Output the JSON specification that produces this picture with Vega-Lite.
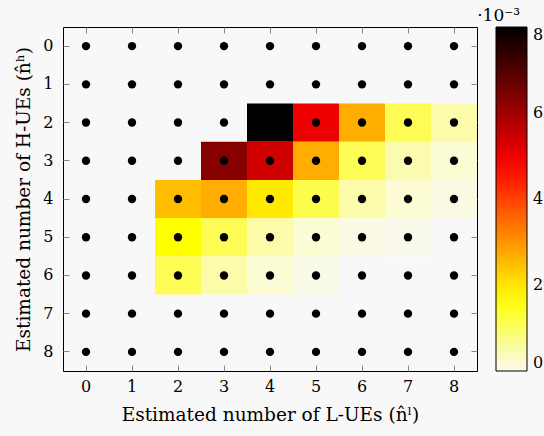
{
  "$schema": "https://vega.github.io/schema/vega-lite/v6.json",
  "width": 414,
  "height": 344,
  "autosize": {"type": "none"},
  "padding": {"left": 63, "top": 27, "right": 67, "bottom": 65},
  "background": "#f8f8f8",
  "title": {
    "text": "·10⁻³",
    "anchor": "end",
    "frame": "group",
    "dx": 43,
    "dy": 22,
    "offset": 11,
    "baseline": "alphabetic",
    "font": "DejaVu Serif",
    "fontSize": 17,
    "fontWeight": "normal",
    "color": "#000"
  },
  "config": {
    "view": {"stroke": "#000", "strokeWidth": 1},
    "axis": {
      "labelFont": "DejaVu Serif",
      "titleFont": "DejaVu Serif",
      "labelFontSize": 16,
      "titleFontSize": 18.5,
      "titleFontWeight": "normal",
      "labelColor": "#000",
      "titleColor": "#000",
      "domain": false,
      "grid": false,
      "tickColor": "#888",
      "tickSize": -6,
      "labelAngle": 0
    }
  },
  "resolve": {"axis": {"x": "independent", "y": "independent"}},
  "data": {
    "values": [
      {"l": 0, "h": 0, "p": null}, {"l": 1, "h": 0, "p": null}, {"l": 2, "h": 0, "p": null}, {"l": 3, "h": 0, "p": null}, {"l": 4, "h": 0, "p": null}, {"l": 5, "h": 0, "p": null}, {"l": 6, "h": 0, "p": null}, {"l": 7, "h": 0, "p": null}, {"l": 8, "h": 0, "p": null},
      {"l": 0, "h": 1, "p": null}, {"l": 1, "h": 1, "p": null}, {"l": 2, "h": 1, "p": null}, {"l": 3, "h": 1, "p": null}, {"l": 4, "h": 1, "p": null}, {"l": 5, "h": 1, "p": null}, {"l": 6, "h": 1, "p": null}, {"l": 7, "h": 1, "p": null}, {"l": 8, "h": 1, "p": null},
      {"l": 0, "h": 2, "p": null}, {"l": 1, "h": 2, "p": null}, {"l": 2, "h": 2, "p": null}, {"l": 3, "h": 2, "p": null}, {"l": 4, "h": 2, "p": 0.0080}, {"l": 5, "h": 2, "p": 0.0050}, {"l": 6, "h": 2, "p": 0.0027}, {"l": 7, "h": 2, "p": 0.0011}, {"l": 8, "h": 2, "p": 0.0005},
      {"l": 0, "h": 3, "p": null}, {"l": 1, "h": 3, "p": null}, {"l": 2, "h": 3, "p": null}, {"l": 3, "h": 3, "p": 0.0063}, {"l": 4, "h": 3, "p": 0.0054}, {"l": 5, "h": 3, "p": 0.0027}, {"l": 6, "h": 3, "p": 0.0011}, {"l": 7, "h": 3, "p": 0.00045}, {"l": 8, "h": 3, "p": 0.0002},
      {"l": 0, "h": 4, "p": null}, {"l": 1, "h": 4, "p": null}, {"l": 2, "h": 4, "p": 0.0025}, {"l": 3, "h": 4, "p": 0.0027}, {"l": 4, "h": 4, "p": 0.00195}, {"l": 5, "h": 4, "p": 0.00115}, {"l": 6, "h": 4, "p": 0.0005}, {"l": 7, "h": 4, "p": 0.0002}, {"l": 8, "h": 4, "p": 0.0001},
      {"l": 0, "h": 5, "p": null}, {"l": 1, "h": 5, "p": null}, {"l": 2, "h": 5, "p": 0.0017}, {"l": 3, "h": 5, "p": 0.0011}, {"l": 4, "h": 5, "p": 0.0005}, {"l": 5, "h": 5, "p": 0.0002}, {"l": 6, "h": 5, "p": 0.00008}, {"l": 7, "h": 5, "p": 0.00003}, {"l": 8, "h": 5, "p": null},
      {"l": 0, "h": 6, "p": null}, {"l": 1, "h": 6, "p": null}, {"l": 2, "h": 6, "p": 0.0011}, {"l": 3, "h": 6, "p": 0.0005}, {"l": 4, "h": 6, "p": 0.0002}, {"l": 5, "h": 6, "p": 0.00006}, {"l": 6, "h": 6, "p": null}, {"l": 7, "h": 6, "p": null}, {"l": 8, "h": 6, "p": null},
      {"l": 0, "h": 7, "p": null}, {"l": 1, "h": 7, "p": null}, {"l": 2, "h": 7, "p": null}, {"l": 3, "h": 7, "p": null}, {"l": 4, "h": 7, "p": null}, {"l": 5, "h": 7, "p": null}, {"l": 6, "h": 7, "p": null}, {"l": 7, "h": 7, "p": null}, {"l": 8, "h": 7, "p": null},
      {"l": 0, "h": 8, "p": null}, {"l": 1, "h": 8, "p": null}, {"l": 2, "h": 8, "p": null}, {"l": 3, "h": 8, "p": null}, {"l": 4, "h": 8, "p": null}, {"l": 5, "h": 8, "p": null}, {"l": 6, "h": 8, "p": null}, {"l": 7, "h": 8, "p": null}, {"l": 8, "h": 8, "p": null}
    ]
  },
  "layer": [
    {
      "transform": [{"filter": "datum.p != null"}],
      "mark": {"type": "rect"},
      "encoding": {
        "x": {"field": "l", "type": "ordinal", "scale": {"paddingInner": 0, "paddingOuter": 0},
              "axis": {"orient": "bottom", "title": "Estimated number of L-UEs (n̂ˡ)", "labelPadding": 13, "titlePadding": 11}},
        "y": {"field": "h", "type": "ordinal", "scale": {"paddingInner": 0, "paddingOuter": 0},
              "axis": {"orient": "left", "title": "Estimated number of H-UEs (n̂ʰ)", "labelPadding": 16, "titlePadding": 9}},
        "color": {
          "field": "p",
          "type": "quantitative",
          "scale": {
            "domain": [0, 0.0017, 0.0048, 0.008],
            "range": ["#fafaf0", "#ffff00", "#ff0000", "#000000"],
            "interpolate": "rgb"
          },
          "legend": {
            "title": null,
            "values": [0, 0.002, 0.004, 0.006, 0.008],
            "labelExpr": "format(datum.value*1000, 'd')",
            "labelFont": "DejaVu Serif",
            "labelFontSize": 16,
            "labelColor": "#000",
            "gradientLength": 344,
            "gradientThickness": 31,
            "gradientStrokeColor": "#000",
            "gradientStrokeWidth": 1,
            "labelOffset": 6,
            "offset": 18,
            "padding": 0
          }
        }
      }
    },
    {
      "mark": {"type": "point", "filled": true, "color": "#000", "size": 70, "opacity": 1},
      "encoding": {
        "x": {"field": "l", "type": "ordinal", "axis": null},
        "y": {"field": "h", "type": "ordinal", "axis": null}
      }
    },
    {
      "mark": {"type": "point", "opacity": 0},
      "encoding": {
        "x": {"field": "l", "type": "ordinal", "axis": {"orient": "top", "labels": false, "title": null}},
        "y": {"field": "h", "type": "ordinal", "axis": {"orient": "right", "labels": false, "title": null}}
      }
    }
  ]
}
